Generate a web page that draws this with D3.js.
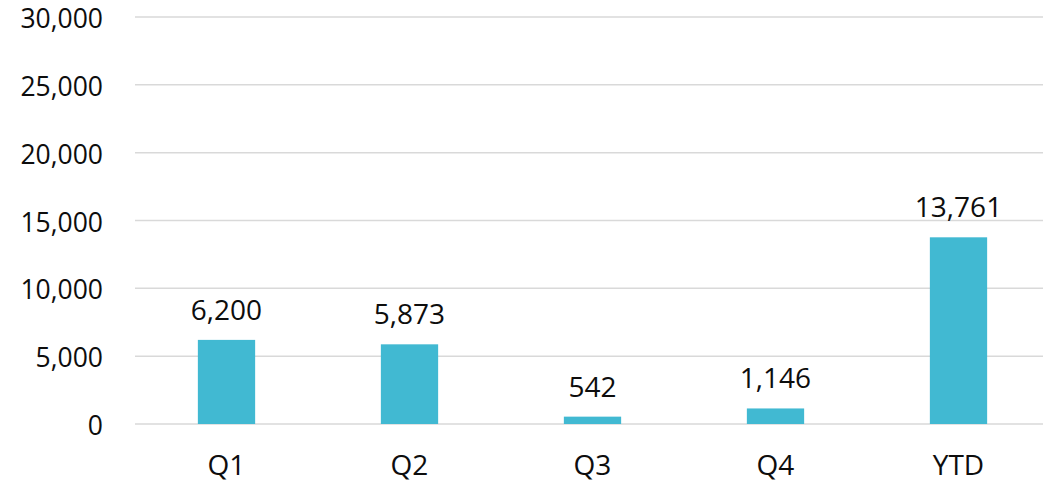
<!DOCTYPE html>
<html><head><meta charset="utf-8">
<script src="https://cdn.jsdelivr.net/npm/d3@7"></script>
<style>body{margin:0;background:#fff;}svg{display:block;}text{font-family:"Open Sans",sans-serif;fill:#0d0d0d;}</style>
</head><body>
<svg id="c" width="1043" height="485"></svg>
<script>
const categories = ["Q1","Q2","Q3","Q4","YTD"];
const values = [6200,5873,542,1146,13761];
const yTicks = [0,5000,10000,15000,20000,25000,30000];

const svg = d3.select("#c");
const x = d3.scaleBand().domain(categories).range([135,1050]).padding(0);
const y = d3.scaleLinear().domain([0,30000]).range([424,17]);
const fmt = d3.format(",");

// gridlines
svg.append("g").selectAll("line").data(yTicks).join("line")
  .attr("x1",135).attr("x2",1050)
  .attr("y1",d=>y(d)).attr("y2",d=>y(d))
  .attr("stroke","#d9d9d9").attr("stroke-width",1.5);

// y labels
svg.append("g").selectAll("text").data(yTicks).join("text")
  .attr("x",103).attr("y",d=>y(d)+11)
  .attr("text-anchor","end").attr("font-size",26.5)
  .text(d=>fmt(d));

const bw = x.bandwidth()*0.313;
svg.append("g").selectAll("rect").data(values).join("rect")
  .attr("x",(d,i)=>x(categories[i])+x.bandwidth()/2-bw/2)
  .attr("width",bw)
  .attr("y",d=>y(d)).attr("height",d=>y(0)-y(d))
  .attr("fill","#41b9d2");

svg.append("g").selectAll("text").data(values).join("text")
  .attr("x",(d,i)=>x(categories[i])+x.bandwidth()/2)
  .attr("y",d=>y(d)-20)
  .attr("text-anchor","middle").attr("font-size",28)
  .text(d=>fmt(d));

svg.append("g").selectAll("text").data(categories).join("text")
  .attr("x",d=>x(d)+x.bandwidth()/2)
  .attr("y",475)
  .attr("text-anchor","middle").attr("font-size",28)
  .text(d=>d);
</script>
</body></html>
